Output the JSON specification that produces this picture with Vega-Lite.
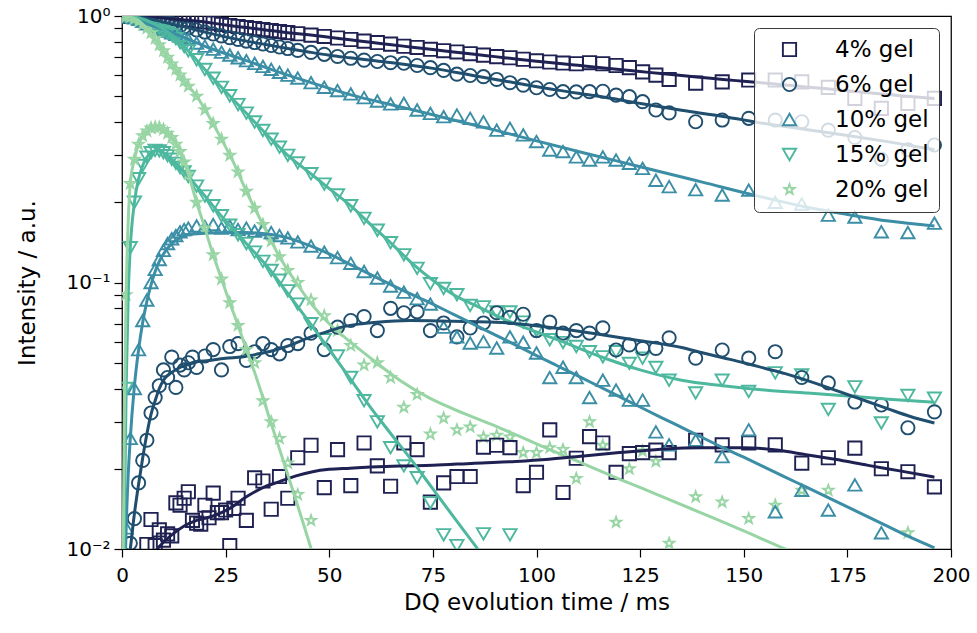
{
  "$schema": "https://vega.github.io/schema/vega-lite/v6.json",
  "width": 829,
  "height": 533,
  "autosize": {"type": "none"},
  "padding": {"left": 122, "top": 16, "right": 26, "bottom": 84},
  "background": "white",
  "config": {
    "font": "DejaVu Sans",
    "view": {"stroke": "black", "strokeWidth": 1.25},
    "axis": {
      "domain": false,
      "grid": false,
      "tickColor": "black",
      "tickWidth": 1.2,
      "tickSize": 8,
      "labelColor": "black",
      "labelFont": "DejaVu Sans",
      "labelFontSize": 20,
      "titleColor": "black",
      "titleFont": "DejaVu Sans",
      "titleFontSize": 23,
      "titleFontWeight": "normal",
      "labelFlush": false,
      "labelOverlap": false
    }
  },
  "datasets": {
    "points": [
      {"gel":"4% gel","curve":"reference","t":0,"I":1},
      {"gel":"4% gel","curve":"reference","t":1,"I":1},
      {"gel":"4% gel","curve":"reference","t":2,"I":0.999},
      {"gel":"4% gel","curve":"reference","t":3,"I":0.999},
      {"gel":"4% gel","curve":"reference","t":4,"I":0.998},
      {"gel":"4% gel","curve":"reference","t":5,"I":0.997},
      {"gel":"4% gel","curve":"reference","t":6,"I":0.994},
      {"gel":"4% gel","curve":"reference","t":7,"I":0.991},
      {"gel":"4% gel","curve":"reference","t":8,"I":0.988},
      {"gel":"4% gel","curve":"reference","t":9,"I":0.985},
      {"gel":"4% gel","curve":"reference","t":10,"I":0.982},
      {"gel":"4% gel","curve":"reference","t":11,"I":0.979},
      {"gel":"4% gel","curve":"reference","t":12,"I":0.976},
      {"gel":"4% gel","curve":"reference","t":13,"I":0.973},
      {"gel":"4% gel","curve":"reference","t":14,"I":0.97},
      {"gel":"4% gel","curve":"reference","t":15,"I":0.967},
      {"gel":"4% gel","curve":"reference","t":16,"I":0.963},
      {"gel":"4% gel","curve":"reference","t":18,"I":0.957},
      {"gel":"4% gel","curve":"reference","t":20,"I":0.95},
      {"gel":"4% gel","curve":"reference","t":22,"I":0.94},
      {"gel":"4% gel","curve":"reference","t":24,"I":0.93},
      {"gel":"4% gel","curve":"reference","t":26,"I":0.921},
      {"gel":"4% gel","curve":"reference","t":28,"I":0.913},
      {"gel":"4% gel","curve":"reference","t":30,"I":0.905},
      {"gel":"4% gel","curve":"reference","t":32,"I":0.897},
      {"gel":"4% gel","curve":"reference","t":34,"I":0.889},
      {"gel":"4% gel","curve":"reference","t":36,"I":0.881},
      {"gel":"4% gel","curve":"reference","t":38,"I":0.874},
      {"gel":"4% gel","curve":"reference","t":40,"I":0.866},
      {"gel":"4% gel","curve":"reference","t":42.4,"I":0.858},
      {"gel":"4% gel","curve":"reference","t":45.6,"I":0.848},
      {"gel":"4% gel","curve":"reference","t":48.8,"I":0.838},
      {"gel":"4% gel","curve":"reference","t":52,"I":0.827},
      {"gel":"4% gel","curve":"reference","t":55.2,"I":0.816},
      {"gel":"4% gel","curve":"reference","t":58.4,"I":0.805},
      {"gel":"4% gel","curve":"reference","t":61.6,"I":0.795},
      {"gel":"4% gel","curve":"reference","t":64.8,"I":0.784},
      {"gel":"4% gel","curve":"reference","t":68,"I":0.77},
      {"gel":"4% gel","curve":"reference","t":71.2,"I":0.762},
      {"gel":"4% gel","curve":"reference","t":74.4,"I":0.75},
      {"gel":"4% gel","curve":"reference","t":77.6,"I":0.741},
      {"gel":"4% gel","curve":"reference","t":80.8,"I":0.733},
      {"gel":"4% gel","curve":"reference","t":84,"I":0.722},
      {"gel":"4% gel","curve":"reference","t":87.2,"I":0.713},
      {"gel":"4% gel","curve":"reference","t":90.4,"I":0.704},
      {"gel":"4% gel","curve":"reference","t":93.6,"I":0.697},
      {"gel":"4% gel","curve":"reference","t":96.8,"I":0.688},
      {"gel":"4% gel","curve":"reference","t":100,"I":0.679},
      {"gel":"4% gel","curve":"reference","t":103.2,"I":0.672},
      {"gel":"4% gel","curve":"reference","t":106.4,"I":0.666},
      {"gel":"4% gel","curve":"reference","t":109.6,"I":0.662},
      {"gel":"4% gel","curve":"reference","t":112.8,"I":0.668},
      {"gel":"4% gel","curve":"reference","t":116,"I":0.662},
      {"gel":"4% gel","curve":"reference","t":119.2,"I":0.652},
      {"gel":"4% gel","curve":"reference","t":122.4,"I":0.64},
      {"gel":"4% gel","curve":"reference","t":125.6,"I":0.617},
      {"gel":"4% gel","curve":"reference","t":128.8,"I":0.6},
      {"gel":"4% gel","curve":"reference","t":132,"I":0.578},
      {"gel":"4% gel","curve":"reference","t":138.4,"I":0.56},
      {"gel":"4% gel","curve":"reference","t":144.8,"I":0.566},
      {"gel":"4% gel","curve":"reference","t":151.2,"I":0.575},
      {"gel":"4% gel","curve":"reference","t":157.6,"I":0.575},
      {"gel":"4% gel","curve":"reference","t":164,"I":0.566},
      {"gel":"4% gel","curve":"reference","t":170.4,"I":0.54},
      {"gel":"4% gel","curve":"reference","t":176.8,"I":0.491},
      {"gel":"4% gel","curve":"reference","t":183.2,"I":0.45},
      {"gel":"4% gel","curve":"reference","t":189.6,"I":0.47},
      {"gel":"4% gel","curve":"reference","t":196,"I":0.491},

      {"gel":"6% gel","curve":"reference","t":0,"I":1},
      {"gel":"6% gel","curve":"reference","t":1,"I":0.999},
      {"gel":"6% gel","curve":"reference","t":2,"I":0.997},
      {"gel":"6% gel","curve":"reference","t":3,"I":0.994},
      {"gel":"6% gel","curve":"reference","t":4,"I":0.99},
      {"gel":"6% gel","curve":"reference","t":5,"I":0.985},
      {"gel":"6% gel","curve":"reference","t":6,"I":0.978},
      {"gel":"6% gel","curve":"reference","t":7,"I":0.971},
      {"gel":"6% gel","curve":"reference","t":8,"I":0.964},
      {"gel":"6% gel","curve":"reference","t":9,"I":0.957},
      {"gel":"6% gel","curve":"reference","t":10,"I":0.95},
      {"gel":"6% gel","curve":"reference","t":11,"I":0.942},
      {"gel":"6% gel","curve":"reference","t":12,"I":0.934},
      {"gel":"6% gel","curve":"reference","t":13,"I":0.926},
      {"gel":"6% gel","curve":"reference","t":14,"I":0.918},
      {"gel":"6% gel","curve":"reference","t":15,"I":0.91},
      {"gel":"6% gel","curve":"reference","t":16,"I":0.902},
      {"gel":"6% gel","curve":"reference","t":18,"I":0.886},
      {"gel":"6% gel","curve":"reference","t":20,"I":0.87},
      {"gel":"6% gel","curve":"reference","t":22,"I":0.856},
      {"gel":"6% gel","curve":"reference","t":24,"I":0.842},
      {"gel":"6% gel","curve":"reference","t":26,"I":0.829},
      {"gel":"6% gel","curve":"reference","t":28,"I":0.817},
      {"gel":"6% gel","curve":"reference","t":30,"I":0.805},
      {"gel":"6% gel","curve":"reference","t":32,"I":0.795},
      {"gel":"6% gel","curve":"reference","t":34,"I":0.785},
      {"gel":"6% gel","curve":"reference","t":36,"I":0.775},
      {"gel":"6% gel","curve":"reference","t":38,"I":0.765},
      {"gel":"6% gel","curve":"reference","t":40,"I":0.755},
      {"gel":"6% gel","curve":"reference","t":42.4,"I":0.743},
      {"gel":"6% gel","curve":"reference","t":45.6,"I":0.73},
      {"gel":"6% gel","curve":"reference","t":48.8,"I":0.718},
      {"gel":"6% gel","curve":"reference","t":52,"I":0.705},
      {"gel":"6% gel","curve":"reference","t":55.2,"I":0.694},
      {"gel":"6% gel","curve":"reference","t":58.4,"I":0.683},
      {"gel":"6% gel","curve":"reference","t":61.6,"I":0.675},
      {"gel":"6% gel","curve":"reference","t":64.8,"I":0.668},
      {"gel":"6% gel","curve":"reference","t":68,"I":0.665},
      {"gel":"6% gel","curve":"reference","t":71.2,"I":0.652},
      {"gel":"6% gel","curve":"reference","t":74.4,"I":0.64},
      {"gel":"6% gel","curve":"reference","t":77.6,"I":0.625},
      {"gel":"6% gel","curve":"reference","t":80.8,"I":0.605},
      {"gel":"6% gel","curve":"reference","t":84,"I":0.598},
      {"gel":"6% gel","curve":"reference","t":87.2,"I":0.592},
      {"gel":"6% gel","curve":"reference","t":90.4,"I":0.578},
      {"gel":"6% gel","curve":"reference","t":93.6,"I":0.562},
      {"gel":"6% gel","curve":"reference","t":96.8,"I":0.55},
      {"gel":"6% gel","curve":"reference","t":100,"I":0.538},
      {"gel":"6% gel","curve":"reference","t":103.2,"I":0.53},
      {"gel":"6% gel","curve":"reference","t":106.4,"I":0.52},
      {"gel":"6% gel","curve":"reference","t":109.6,"I":0.519},
      {"gel":"6% gel","curve":"reference","t":112.8,"I":0.52},
      {"gel":"6% gel","curve":"reference","t":116,"I":0.522},
      {"gel":"6% gel","curve":"reference","t":119.2,"I":0.505},
      {"gel":"6% gel","curve":"reference","t":122.4,"I":0.498},
      {"gel":"6% gel","curve":"reference","t":125.6,"I":0.477},
      {"gel":"6% gel","curve":"reference","t":128.8,"I":0.444},
      {"gel":"6% gel","curve":"reference","t":132,"I":0.433},
      {"gel":"6% gel","curve":"reference","t":138.4,"I":0.401},
      {"gel":"6% gel","curve":"reference","t":144.8,"I":0.407},
      {"gel":"6% gel","curve":"reference","t":151.2,"I":0.413},
      {"gel":"6% gel","curve":"reference","t":157.6,"I":0.407},
      {"gel":"6% gel","curve":"reference","t":164,"I":0.401},
      {"gel":"6% gel","curve":"reference","t":170.4,"I":0.373},
      {"gel":"6% gel","curve":"reference","t":176.8,"I":0.35},
      {"gel":"6% gel","curve":"reference","t":183.2,"I":0.29},
      {"gel":"6% gel","curve":"reference","t":189.6,"I":0.315},
      {"gel":"6% gel","curve":"reference","t":196,"I":0.328},

      {"gel":"10% gel","curve":"reference","t":0,"I":1},
      {"gel":"10% gel","curve":"reference","t":1,"I":0.998},
      {"gel":"10% gel","curve":"reference","t":2,"I":0.993},
      {"gel":"10% gel","curve":"reference","t":3,"I":0.985},
      {"gel":"10% gel","curve":"reference","t":4,"I":0.972},
      {"gel":"10% gel","curve":"reference","t":5,"I":0.955},
      {"gel":"10% gel","curve":"reference","t":6,"I":0.935},
      {"gel":"10% gel","curve":"reference","t":7,"I":0.922},
      {"gel":"10% gel","curve":"reference","t":8,"I":0.912},
      {"gel":"10% gel","curve":"reference","t":9,"I":0.9},
      {"gel":"10% gel","curve":"reference","t":10,"I":0.89},
      {"gel":"10% gel","curve":"reference","t":11,"I":0.877},
      {"gel":"10% gel","curve":"reference","t":12,"I":0.865},
      {"gel":"10% gel","curve":"reference","t":13,"I":0.853},
      {"gel":"10% gel","curve":"reference","t":14,"I":0.841},
      {"gel":"10% gel","curve":"reference","t":15,"I":0.83},
      {"gel":"10% gel","curve":"reference","t":16,"I":0.817},
      {"gel":"10% gel","curve":"reference","t":18,"I":0.792},
      {"gel":"10% gel","curve":"reference","t":20,"I":0.771},
      {"gel":"10% gel","curve":"reference","t":22,"I":0.751},
      {"gel":"10% gel","curve":"reference","t":24,"I":0.732},
      {"gel":"10% gel","curve":"reference","t":26,"I":0.714},
      {"gel":"10% gel","curve":"reference","t":28,"I":0.697},
      {"gel":"10% gel","curve":"reference","t":30,"I":0.68},
      {"gel":"10% gel","curve":"reference","t":32,"I":0.664},
      {"gel":"10% gel","curve":"reference","t":34,"I":0.647},
      {"gel":"10% gel","curve":"reference","t":36,"I":0.631},
      {"gel":"10% gel","curve":"reference","t":38,"I":0.615},
      {"gel":"10% gel","curve":"reference","t":40,"I":0.6},
      {"gel":"10% gel","curve":"reference","t":42.4,"I":0.585},
      {"gel":"10% gel","curve":"reference","t":45.6,"I":0.562},
      {"gel":"10% gel","curve":"reference","t":48.8,"I":0.54},
      {"gel":"10% gel","curve":"reference","t":52,"I":0.525},
      {"gel":"10% gel","curve":"reference","t":55.2,"I":0.51},
      {"gel":"10% gel","curve":"reference","t":58.4,"I":0.494},
      {"gel":"10% gel","curve":"reference","t":61.6,"I":0.48},
      {"gel":"10% gel","curve":"reference","t":64.8,"I":0.468},
      {"gel":"10% gel","curve":"reference","t":68,"I":0.47},
      {"gel":"10% gel","curve":"reference","t":71.2,"I":0.444},
      {"gel":"10% gel","curve":"reference","t":74.4,"I":0.431},
      {"gel":"10% gel","curve":"reference","t":77.6,"I":0.419},
      {"gel":"10% gel","curve":"reference","t":80.8,"I":0.425},
      {"gel":"10% gel","curve":"reference","t":84,"I":0.413},
      {"gel":"10% gel","curve":"reference","t":87.2,"I":0.401},
      {"gel":"10% gel","curve":"reference","t":90.4,"I":0.373},
      {"gel":"10% gel","curve":"reference","t":93.6,"I":0.379},
      {"gel":"10% gel","curve":"reference","t":96.8,"I":0.358},
      {"gel":"10% gel","curve":"reference","t":100,"I":0.338},
      {"gel":"10% gel","curve":"reference","t":103.2,"I":0.314},
      {"gel":"10% gel","curve":"reference","t":106.4,"I":0.31},
      {"gel":"10% gel","curve":"reference","t":109.6,"I":0.296},
      {"gel":"10% gel","curve":"reference","t":112.8,"I":0.288},
      {"gel":"10% gel","curve":"reference","t":116,"I":0.296},
      {"gel":"10% gel","curve":"reference","t":119.2,"I":0.288},
      {"gel":"10% gel","curve":"reference","t":122.4,"I":0.28},
      {"gel":"10% gel","curve":"reference","t":125.6,"I":0.268},
      {"gel":"10% gel","curve":"reference","t":128.8,"I":0.242},
      {"gel":"10% gel","curve":"reference","t":132,"I":0.229},
      {"gel":"10% gel","curve":"reference","t":138.4,"I":0.223},
      {"gel":"10% gel","curve":"reference","t":144.8,"I":0.213},
      {"gel":"10% gel","curve":"reference","t":151.2,"I":0.222},
      {"gel":"10% gel","curve":"reference","t":157.6,"I":0.2},
      {"gel":"10% gel","curve":"reference","t":164,"I":0.197},
      {"gel":"10% gel","curve":"reference","t":170.4,"I":0.179},
      {"gel":"10% gel","curve":"reference","t":176.8,"I":0.176},
      {"gel":"10% gel","curve":"reference","t":183.2,"I":0.155},
      {"gel":"10% gel","curve":"reference","t":189.6,"I":0.154},
      {"gel":"10% gel","curve":"reference","t":196,"I":0.167},

      {"gel":"15% gel","curve":"reference","t":0,"I":1},
      {"gel":"15% gel","curve":"reference","t":1,"I":0.999},
      {"gel":"15% gel","curve":"reference","t":2,"I":0.996},
      {"gel":"15% gel","curve":"reference","t":3,"I":0.99},
      {"gel":"15% gel","curve":"reference","t":4,"I":0.982},
      {"gel":"15% gel","curve":"reference","t":5,"I":0.97},
      {"gel":"15% gel","curve":"reference","t":6,"I":0.955},
      {"gel":"15% gel","curve":"reference","t":7,"I":0.935},
      {"gel":"15% gel","curve":"reference","t":8,"I":0.915},
      {"gel":"15% gel","curve":"reference","t":9,"I":0.9},
      {"gel":"15% gel","curve":"reference","t":10,"I":0.88},
      {"gel":"15% gel","curve":"reference","t":11,"I":0.865},
      {"gel":"15% gel","curve":"reference","t":12,"I":0.85},
      {"gel":"15% gel","curve":"reference","t":13,"I":0.822},
      {"gel":"15% gel","curve":"reference","t":14,"I":0.795},
      {"gel":"15% gel","curve":"reference","t":15,"I":0.768},
      {"gel":"15% gel","curve":"reference","t":16,"I":0.74},
      {"gel":"15% gel","curve":"reference","t":18,"I":0.685},
      {"gel":"15% gel","curve":"reference","t":20,"I":0.63},
      {"gel":"15% gel","curve":"reference","t":22,"I":0.584},
      {"gel":"15% gel","curve":"reference","t":24,"I":0.54},
      {"gel":"15% gel","curve":"reference","t":26,"I":0.502},
      {"gel":"15% gel","curve":"reference","t":28,"I":0.465},
      {"gel":"15% gel","curve":"reference","t":30,"I":0.432},
      {"gel":"15% gel","curve":"reference","t":32,"I":0.4},
      {"gel":"15% gel","curve":"reference","t":34,"I":0.372},
      {"gel":"15% gel","curve":"reference","t":36,"I":0.345},
      {"gel":"15% gel","curve":"reference","t":38,"I":0.322},
      {"gel":"15% gel","curve":"reference","t":40,"I":0.3},
      {"gel":"15% gel","curve":"reference","t":42.4,"I":0.281},
      {"gel":"15% gel","curve":"reference","t":45.6,"I":0.256},
      {"gel":"15% gel","curve":"reference","t":48.8,"I":0.234},
      {"gel":"15% gel","curve":"reference","t":52,"I":0.213},
      {"gel":"15% gel","curve":"reference","t":55.2,"I":0.194},
      {"gel":"15% gel","curve":"reference","t":58.4,"I":0.174},
      {"gel":"15% gel","curve":"reference","t":61.6,"I":0.157},
      {"gel":"15% gel","curve":"reference","t":64.8,"I":0.141},
      {"gel":"15% gel","curve":"reference","t":68,"I":0.127},
      {"gel":"15% gel","curve":"reference","t":71.2,"I":0.113},
      {"gel":"15% gel","curve":"reference","t":74.4,"I":0.099},
      {"gel":"15% gel","curve":"reference","t":77.6,"I":0.095},
      {"gel":"15% gel","curve":"reference","t":80.8,"I":0.09},
      {"gel":"15% gel","curve":"reference","t":84,"I":0.082},
      {"gel":"15% gel","curve":"reference","t":87.2,"I":0.081},
      {"gel":"15% gel","curve":"reference","t":90.4,"I":0.0775},
      {"gel":"15% gel","curve":"reference","t":93.6,"I":0.0775},
      {"gel":"15% gel","curve":"reference","t":96.8,"I":0.071},
      {"gel":"15% gel","curve":"reference","t":100,"I":0.066},
      {"gel":"15% gel","curve":"reference","t":103.2,"I":0.061},
      {"gel":"15% gel","curve":"reference","t":106.4,"I":0.0595},
      {"gel":"15% gel","curve":"reference","t":109.6,"I":0.0575},
      {"gel":"15% gel","curve":"reference","t":112.8,"I":0.055},
      {"gel":"15% gel","curve":"reference","t":116,"I":0.0526},
      {"gel":"15% gel","curve":"reference","t":119.2,"I":0.055},
      {"gel":"15% gel","curve":"reference","t":122.4,"I":0.0497},
      {"gel":"15% gel","curve":"reference","t":125.6,"I":0.052},
      {"gel":"15% gel","curve":"reference","t":128.8,"I":0.048},
      {"gel":"15% gel","curve":"reference","t":132,"I":0.043},
      {"gel":"15% gel","curve":"reference","t":138.4,"I":0.0385},
      {"gel":"15% gel","curve":"reference","t":144.8,"I":0.043},
      {"gel":"15% gel","curve":"reference","t":151.2,"I":0.039},
      {"gel":"15% gel","curve":"reference","t":157.6,"I":0.0458},
      {"gel":"15% gel","curve":"reference","t":164,"I":0.045},
      {"gel":"15% gel","curve":"reference","t":170.4,"I":0.0334},
      {"gel":"15% gel","curve":"reference","t":176.8,"I":0.0406},
      {"gel":"15% gel","curve":"reference","t":183.2,"I":0.0297},
      {"gel":"15% gel","curve":"reference","t":189.6,"I":0.0377},
      {"gel":"15% gel","curve":"reference","t":196,"I":0.0368},

      {"gel":"20% gel","curve":"reference","t":0,"I":1},
      {"gel":"20% gel","curve":"reference","t":1,"I":0.998},
      {"gel":"20% gel","curve":"reference","t":2,"I":0.99},
      {"gel":"20% gel","curve":"reference","t":3,"I":0.975},
      {"gel":"20% gel","curve":"reference","t":4,"I":0.955},
      {"gel":"20% gel","curve":"reference","t":5,"I":0.93},
      {"gel":"20% gel","curve":"reference","t":6,"I":0.9},
      {"gel":"20% gel","curve":"reference","t":7,"I":0.865},
      {"gel":"20% gel","curve":"reference","t":8,"I":0.825},
      {"gel":"20% gel","curve":"reference","t":9,"I":0.78},
      {"gel":"20% gel","curve":"reference","t":10,"I":0.74},
      {"gel":"20% gel","curve":"reference","t":11,"I":0.7},
      {"gel":"20% gel","curve":"reference","t":12,"I":0.66},
      {"gel":"20% gel","curve":"reference","t":13,"I":0.63},
      {"gel":"20% gel","curve":"reference","t":14,"I":0.6},
      {"gel":"20% gel","curve":"reference","t":15,"I":0.57},
      {"gel":"20% gel","curve":"reference","t":16,"I":0.545},
      {"gel":"20% gel","curve":"reference","t":18,"I":0.5},
      {"gel":"20% gel","curve":"reference","t":20,"I":0.445},
      {"gel":"20% gel","curve":"reference","t":22,"I":0.395},
      {"gel":"20% gel","curve":"reference","t":24,"I":0.345},
      {"gel":"20% gel","curve":"reference","t":26,"I":0.3},
      {"gel":"20% gel","curve":"reference","t":28,"I":0.26},
      {"gel":"20% gel","curve":"reference","t":30,"I":0.22},
      {"gel":"20% gel","curve":"reference","t":32,"I":0.19},
      {"gel":"20% gel","curve":"reference","t":34,"I":0.165},
      {"gel":"20% gel","curve":"reference","t":36,"I":0.143},
      {"gel":"20% gel","curve":"reference","t":38,"I":0.125},
      {"gel":"20% gel","curve":"reference","t":40,"I":0.111},
      {"gel":"20% gel","curve":"reference","t":42.4,"I":0.1},
      {"gel":"20% gel","curve":"reference","t":45.6,"I":0.086},
      {"gel":"20% gel","curve":"reference","t":48.8,"I":0.075},
      {"gel":"20% gel","curve":"reference","t":52,"I":0.066},
      {"gel":"20% gel","curve":"reference","t":55.2,"I":0.058},
      {"gel":"20% gel","curve":"reference","t":58.4,"I":0.049},
      {"gel":"20% gel","curve":"reference","t":61.6,"I":0.05},
      {"gel":"20% gel","curve":"reference","t":64.8,"I":0.044},
      {"gel":"20% gel","curve":"reference","t":68,"I":0.034},
      {"gel":"20% gel","curve":"reference","t":71.2,"I":0.038},
      {"gel":"20% gel","curve":"reference","t":74.4,"I":0.027},
      {"gel":"20% gel","curve":"reference","t":77.6,"I":0.031},
      {"gel":"20% gel","curve":"reference","t":80.8,"I":0.028},
      {"gel":"20% gel","curve":"reference","t":84,"I":0.0287},
      {"gel":"20% gel","curve":"reference","t":87.2,"I":0.0263},
      {"gel":"20% gel","curve":"reference","t":90.4,"I":0.0267},
      {"gel":"20% gel","curve":"reference","t":93.6,"I":0.0263},
      {"gel":"20% gel","curve":"reference","t":96.8,"I":0.023},
      {"gel":"20% gel","curve":"reference","t":100,"I":0.023},
      {"gel":"20% gel","curve":"reference","t":103.2,"I":0.024},
      {"gel":"20% gel","curve":"reference","t":106.4,"I":0.0236},
      {"gel":"20% gel","curve":"reference","t":109.6,"I":0.0184},
      {"gel":"20% gel","curve":"reference","t":112.8,"I":0.03},
      {"gel":"20% gel","curve":"reference","t":116,"I":0.0245},
      {"gel":"20% gel","curve":"reference","t":119.2,"I":0.0126},
      {"gel":"20% gel","curve":"reference","t":122.4,"I":0.02},
      {"gel":"20% gel","curve":"reference","t":125.6,"I":0.0233},
      {"gel":"20% gel","curve":"reference","t":128.8,"I":0.0213},
      {"gel":"20% gel","curve":"reference","t":132,"I":0.0105},
      {"gel":"20% gel","curve":"reference","t":138.4,"I":0.0157},
      {"gel":"20% gel","curve":"reference","t":144.8,"I":0.015},
      {"gel":"20% gel","curve":"reference","t":151.2,"I":0.013},
      {"gel":"20% gel","curve":"reference","t":157.6,"I":0.0146},
      {"gel":"20% gel","curve":"reference","t":164,"I":0.0166},
      {"gel":"20% gel","curve":"reference","t":170.4,"I":0.0166},
      {"gel":"20% gel","curve":"reference","t":189.6,"I":0.0115},

      {"gel":"4% gel","curve":"DQ","t":6,"I":0.0104},
      {"gel":"4% gel","curve":"DQ","t":7,"I":0.0129},
      {"gel":"4% gel","curve":"DQ","t":8,"I":0.0103},
      {"gel":"4% gel","curve":"DQ","t":9,"I":0.0118},
      {"gel":"4% gel","curve":"DQ","t":10,"I":0.0108},
      {"gel":"4% gel","curve":"DQ","t":11,"I":0.0114},
      {"gel":"4% gel","curve":"DQ","t":12,"I":0.0112},
      {"gel":"4% gel","curve":"DQ","t":13,"I":0.0149},
      {"gel":"4% gel","curve":"DQ","t":14,"I":0.0146},
      {"gel":"4% gel","curve":"DQ","t":15,"I":0.0155},
      {"gel":"4% gel","curve":"DQ","t":16,"I":0.0164},
      {"gel":"4% gel","curve":"DQ","t":17,"I":0.0128},
      {"gel":"4% gel","curve":"DQ","t":18,"I":0.0125},
      {"gel":"4% gel","curve":"DQ","t":19,"I":0.0124},
      {"gel":"4% gel","curve":"DQ","t":20,"I":0.0146},
      {"gel":"4% gel","curve":"DQ","t":21,"I":0.0131},
      {"gel":"4% gel","curve":"DQ","t":22,"I":0.0162},
      {"gel":"4% gel","curve":"DQ","t":23,"I":0.0137},
      {"gel":"4% gel","curve":"DQ","t":24,"I":0.0137},
      {"gel":"4% gel","curve":"DQ","t":25,"I":0.014},
      {"gel":"4% gel","curve":"DQ","t":26,"I":0.0103},
      {"gel":"4% gel","curve":"DQ","t":27,"I":0.0142},
      {"gel":"4% gel","curve":"DQ","t":28,"I":0.0155},
      {"gel":"4% gel","curve":"DQ","t":30,"I":0.0128},
      {"gel":"4% gel","curve":"DQ","t":32,"I":0.0185},
      {"gel":"4% gel","curve":"DQ","t":34,"I":0.018},
      {"gel":"4% gel","curve":"DQ","t":36,"I":0.0141},
      {"gel":"4% gel","curve":"DQ","t":38,"I":0.0187},
      {"gel":"4% gel","curve":"DQ","t":40,"I":0.0155},
      {"gel":"4% gel","curve":"DQ","t":42.4,"I":0.022},
      {"gel":"4% gel","curve":"DQ","t":45.6,"I":0.0245},
      {"gel":"4% gel","curve":"DQ","t":48.8,"I":0.017},
      {"gel":"4% gel","curve":"DQ","t":52,"I":0.0236},
      {"gel":"4% gel","curve":"DQ","t":55.2,"I":0.0173},
      {"gel":"4% gel","curve":"DQ","t":58.4,"I":0.025},
      {"gel":"4% gel","curve":"DQ","t":61.6,"I":0.0205},
      {"gel":"4% gel","curve":"DQ","t":64.8,"I":0.0172},
      {"gel":"4% gel","curve":"DQ","t":68,"I":0.025},
      {"gel":"4% gel","curve":"DQ","t":71.2,"I":0.0236},
      {"gel":"4% gel","curve":"DQ","t":74.4,"I":0.015},
      {"gel":"4% gel","curve":"DQ","t":77.6,"I":0.0177},
      {"gel":"4% gel","curve":"DQ","t":80.8,"I":0.0187},
      {"gel":"4% gel","curve":"DQ","t":84,"I":0.0187},
      {"gel":"4% gel","curve":"DQ","t":87.2,"I":0.0241},
      {"gel":"4% gel","curve":"DQ","t":90.4,"I":0.0245},
      {"gel":"4% gel","curve":"DQ","t":93.6,"I":0.024},
      {"gel":"4% gel","curve":"DQ","t":96.8,"I":0.0173},
      {"gel":"4% gel","curve":"DQ","t":100,"I":0.0194},
      {"gel":"4% gel","curve":"DQ","t":103.2,"I":0.028},
      {"gel":"4% gel","curve":"DQ","t":106.4,"I":0.0163},
      {"gel":"4% gel","curve":"DQ","t":109.6,"I":0.0219},
      {"gel":"4% gel","curve":"DQ","t":112.8,"I":0.0264},
      {"gel":"4% gel","curve":"DQ","t":116,"I":0.025},
      {"gel":"4% gel","curve":"DQ","t":119.2,"I":0.0194},
      {"gel":"4% gel","curve":"DQ","t":122.4,"I":0.0228},
      {"gel":"4% gel","curve":"DQ","t":125.6,"I":0.023},
      {"gel":"4% gel","curve":"DQ","t":128.8,"I":0.0235},
      {"gel":"4% gel","curve":"DQ","t":132,"I":0.023},
      {"gel":"4% gel","curve":"DQ","t":138.4,"I":0.0256},
      {"gel":"4% gel","curve":"DQ","t":144.8,"I":0.0246},
      {"gel":"4% gel","curve":"DQ","t":151.2,"I":0.025},
      {"gel":"4% gel","curve":"DQ","t":157.6,"I":0.0246},
      {"gel":"4% gel","curve":"DQ","t":164,"I":0.021},
      {"gel":"4% gel","curve":"DQ","t":170.4,"I":0.022},
      {"gel":"4% gel","curve":"DQ","t":176.8,"I":0.0239},
      {"gel":"4% gel","curve":"DQ","t":183.2,"I":0.02},
      {"gel":"4% gel","curve":"DQ","t":189.6,"I":0.0195},
      {"gel":"4% gel","curve":"DQ","t":196,"I":0.0171},

      {"gel":"6% gel","curve":"DQ","t":2,"I":0.0105},
      {"gel":"6% gel","curve":"DQ","t":3,"I":0.013},
      {"gel":"6% gel","curve":"DQ","t":4,"I":0.0177},
      {"gel":"6% gel","curve":"DQ","t":5,"I":0.0215},
      {"gel":"6% gel","curve":"DQ","t":6,"I":0.0256},
      {"gel":"6% gel","curve":"DQ","t":7,"I":0.0324},
      {"gel":"6% gel","curve":"DQ","t":8,"I":0.037},
      {"gel":"6% gel","curve":"DQ","t":9,"I":0.041},
      {"gel":"6% gel","curve":"DQ","t":10,"I":0.047},
      {"gel":"6% gel","curve":"DQ","t":11,"I":0.044},
      {"gel":"6% gel","curve":"DQ","t":12,"I":0.0525},
      {"gel":"6% gel","curve":"DQ","t":13,"I":0.0404},
      {"gel":"6% gel","curve":"DQ","t":14,"I":0.049},
      {"gel":"6% gel","curve":"DQ","t":15,"I":0.047},
      {"gel":"6% gel","curve":"DQ","t":16,"I":0.05},
      {"gel":"6% gel","curve":"DQ","t":17,"I":0.0525},
      {"gel":"6% gel","curve":"DQ","t":18,"I":0.048},
      {"gel":"6% gel","curve":"DQ","t":20,"I":0.053},
      {"gel":"6% gel","curve":"DQ","t":22,"I":0.056},
      {"gel":"6% gel","curve":"DQ","t":24,"I":0.047},
      {"gel":"6% gel","curve":"DQ","t":26,"I":0.0575},
      {"gel":"6% gel","curve":"DQ","t":28,"I":0.059},
      {"gel":"6% gel","curve":"DQ","t":30,"I":0.051},
      {"gel":"6% gel","curve":"DQ","t":32,"I":0.055},
      {"gel":"6% gel","curve":"DQ","t":34,"I":0.059},
      {"gel":"6% gel","curve":"DQ","t":36,"I":0.056},
      {"gel":"6% gel","curve":"DQ","t":38,"I":0.054},
      {"gel":"6% gel","curve":"DQ","t":40,"I":0.058},
      {"gel":"6% gel","curve":"DQ","t":42.4,"I":0.059},
      {"gel":"6% gel","curve":"DQ","t":45.6,"I":0.0645},
      {"gel":"6% gel","curve":"DQ","t":48.8,"I":0.056},
      {"gel":"6% gel","curve":"DQ","t":52,"I":0.068},
      {"gel":"6% gel","curve":"DQ","t":55.2,"I":0.072},
      {"gel":"6% gel","curve":"DQ","t":58.4,"I":0.0745},
      {"gel":"6% gel","curve":"DQ","t":61.6,"I":0.066},
      {"gel":"6% gel","curve":"DQ","t":64.8,"I":0.08},
      {"gel":"6% gel","curve":"DQ","t":68,"I":0.077},
      {"gel":"6% gel","curve":"DQ","t":71.2,"I":0.0776},
      {"gel":"6% gel","curve":"DQ","t":74.4,"I":0.066},
      {"gel":"6% gel","curve":"DQ","t":77.6,"I":0.0705},
      {"gel":"6% gel","curve":"DQ","t":80.8,"I":0.0625},
      {"gel":"6% gel","curve":"DQ","t":84,"I":0.0675},
      {"gel":"6% gel","curve":"DQ","t":87.2,"I":0.0705},
      {"gel":"6% gel","curve":"DQ","t":90.4,"I":0.077},
      {"gel":"6% gel","curve":"DQ","t":93.6,"I":0.074},
      {"gel":"6% gel","curve":"DQ","t":96.8,"I":0.076},
      {"gel":"6% gel","curve":"DQ","t":100,"I":0.066},
      {"gel":"6% gel","curve":"DQ","t":103.2,"I":0.071},
      {"gel":"6% gel","curve":"DQ","t":106.4,"I":0.0646},
      {"gel":"6% gel","curve":"DQ","t":109.6,"I":0.066},
      {"gel":"6% gel","curve":"DQ","t":112.8,"I":0.0646},
      {"gel":"6% gel","curve":"DQ","t":116,"I":0.0676},
      {"gel":"6% gel","curve":"DQ","t":119.2,"I":0.0558},
      {"gel":"6% gel","curve":"DQ","t":122.4,"I":0.0583},
      {"gel":"6% gel","curve":"DQ","t":125.6,"I":0.0566},
      {"gel":"6% gel","curve":"DQ","t":128.8,"I":0.0566},
      {"gel":"6% gel","curve":"DQ","t":132,"I":0.062},
      {"gel":"6% gel","curve":"DQ","t":138.4,"I":0.052},
      {"gel":"6% gel","curve":"DQ","t":144.8,"I":0.0558},
      {"gel":"6% gel","curve":"DQ","t":151.2,"I":0.052},
      {"gel":"6% gel","curve":"DQ","t":157.6,"I":0.055},
      {"gel":"6% gel","curve":"DQ","t":164,"I":0.044},
      {"gel":"6% gel","curve":"DQ","t":170.4,"I":0.042},
      {"gel":"6% gel","curve":"DQ","t":176.8,"I":0.0356},
      {"gel":"6% gel","curve":"DQ","t":183.2,"I":0.0347},
      {"gel":"6% gel","curve":"DQ","t":189.6,"I":0.0285},
      {"gel":"6% gel","curve":"DQ","t":196,"I":0.0327},

      {"gel":"10% gel","curve":"DQ","t":1,"I":0.012},
      {"gel":"10% gel","curve":"DQ","t":2,"I":0.026},
      {"gel":"10% gel","curve":"DQ","t":3,"I":0.04},
      {"gel":"10% gel","curve":"DQ","t":4,"I":0.056},
      {"gel":"10% gel","curve":"DQ","t":5,"I":0.072},
      {"gel":"10% gel","curve":"DQ","t":6,"I":0.086},
      {"gel":"10% gel","curve":"DQ","t":7,"I":0.1},
      {"gel":"10% gel","curve":"DQ","t":8,"I":0.112},
      {"gel":"10% gel","curve":"DQ","t":9,"I":0.122},
      {"gel":"10% gel","curve":"DQ","t":10,"I":0.132},
      {"gel":"10% gel","curve":"DQ","t":11,"I":0.14},
      {"gel":"10% gel","curve":"DQ","t":12,"I":0.146},
      {"gel":"10% gel","curve":"DQ","t":13,"I":0.15},
      {"gel":"10% gel","curve":"DQ","t":14,"I":0.155},
      {"gel":"10% gel","curve":"DQ","t":15,"I":0.158},
      {"gel":"10% gel","curve":"DQ","t":16,"I":0.16},
      {"gel":"10% gel","curve":"DQ","t":18,"I":0.163},
      {"gel":"10% gel","curve":"DQ","t":20,"I":0.162},
      {"gel":"10% gel","curve":"DQ","t":22,"I":0.165},
      {"gel":"10% gel","curve":"DQ","t":24,"I":0.16},
      {"gel":"10% gel","curve":"DQ","t":26,"I":0.163},
      {"gel":"10% gel","curve":"DQ","t":28,"I":0.158},
      {"gel":"10% gel","curve":"DQ","t":30,"I":0.16},
      {"gel":"10% gel","curve":"DQ","t":32,"I":0.156},
      {"gel":"10% gel","curve":"DQ","t":34,"I":0.158},
      {"gel":"10% gel","curve":"DQ","t":36,"I":0.154},
      {"gel":"10% gel","curve":"DQ","t":38,"I":0.15},
      {"gel":"10% gel","curve":"DQ","t":40,"I":0.147},
      {"gel":"10% gel","curve":"DQ","t":42.4,"I":0.142},
      {"gel":"10% gel","curve":"DQ","t":45.6,"I":0.137},
      {"gel":"10% gel","curve":"DQ","t":48.8,"I":0.13},
      {"gel":"10% gel","curve":"DQ","t":52,"I":0.124},
      {"gel":"10% gel","curve":"DQ","t":55.2,"I":0.118},
      {"gel":"10% gel","curve":"DQ","t":58.4,"I":0.11},
      {"gel":"10% gel","curve":"DQ","t":61.6,"I":0.104},
      {"gel":"10% gel","curve":"DQ","t":64.8,"I":0.097},
      {"gel":"10% gel","curve":"DQ","t":68,"I":0.092},
      {"gel":"10% gel","curve":"DQ","t":71.2,"I":0.087},
      {"gel":"10% gel","curve":"DQ","t":74.4,"I":0.083},
      {"gel":"10% gel","curve":"DQ","t":77.6,"I":0.068},
      {"gel":"10% gel","curve":"DQ","t":80.8,"I":0.0625},
      {"gel":"10% gel","curve":"DQ","t":84,"I":0.0593},
      {"gel":"10% gel","curve":"DQ","t":87.2,"I":0.06},
      {"gel":"10% gel","curve":"DQ","t":90.4,"I":0.0568},
      {"gel":"10% gel","curve":"DQ","t":93.6,"I":0.0625},
      {"gel":"10% gel","curve":"DQ","t":96.8,"I":0.0597},
      {"gel":"10% gel","curve":"DQ","t":100,"I":0.0544},
      {"gel":"10% gel","curve":"DQ","t":103.2,"I":0.044},
      {"gel":"10% gel","curve":"DQ","t":106.4,"I":0.0481},
      {"gel":"10% gel","curve":"DQ","t":109.6,"I":0.044},
      {"gel":"10% gel","curve":"DQ","t":112.8,"I":0.037},
      {"gel":"10% gel","curve":"DQ","t":116,"I":0.043},
      {"gel":"10% gel","curve":"DQ","t":119.2,"I":0.0395},
      {"gel":"10% gel","curve":"DQ","t":122.4,"I":0.0362},
      {"gel":"10% gel","curve":"DQ","t":125.6,"I":0.0362},
      {"gel":"10% gel","curve":"DQ","t":128.8,"I":0.0275},
      {"gel":"10% gel","curve":"DQ","t":132,"I":0.0246},
      {"gel":"10% gel","curve":"DQ","t":138.4,"I":0.0256},
      {"gel":"10% gel","curve":"DQ","t":144.8,"I":0.0222},
      {"gel":"10% gel","curve":"DQ","t":151.2,"I":0.028},
      {"gel":"10% gel","curve":"DQ","t":157.6,"I":0.0138},
      {"gel":"10% gel","curve":"DQ","t":164,"I":0.0166},
      {"gel":"10% gel","curve":"DQ","t":170.4,"I":0.014},
      {"gel":"10% gel","curve":"DQ","t":176.8,"I":0.0174},
      {"gel":"10% gel","curve":"DQ","t":183.2,"I":0.0115},

      {"gel":"15% gel","curve":"DQ","t":1,"I":0.04},
      {"gel":"15% gel","curve":"DQ","t":2,"I":0.135},
      {"gel":"15% gel","curve":"DQ","t":3,"I":0.2},
      {"gel":"15% gel","curve":"DQ","t":4,"I":0.245},
      {"gel":"15% gel","curve":"DQ","t":5,"I":0.275},
      {"gel":"15% gel","curve":"DQ","t":6,"I":0.295},
      {"gel":"15% gel","curve":"DQ","t":7,"I":0.307},
      {"gel":"15% gel","curve":"DQ","t":8,"I":0.313},
      {"gel":"15% gel","curve":"DQ","t":9,"I":0.312},
      {"gel":"15% gel","curve":"DQ","t":10,"I":0.307},
      {"gel":"15% gel","curve":"DQ","t":11,"I":0.299},
      {"gel":"15% gel","curve":"DQ","t":12,"I":0.29},
      {"gel":"15% gel","curve":"DQ","t":13,"I":0.28},
      {"gel":"15% gel","curve":"DQ","t":14,"I":0.27},
      {"gel":"15% gel","curve":"DQ","t":15,"I":0.26},
      {"gel":"15% gel","curve":"DQ","t":16,"I":0.25},
      {"gel":"15% gel","curve":"DQ","t":18,"I":0.23},
      {"gel":"15% gel","curve":"DQ","t":20,"I":0.211},
      {"gel":"15% gel","curve":"DQ","t":22,"I":0.194},
      {"gel":"15% gel","curve":"DQ","t":24,"I":0.178},
      {"gel":"15% gel","curve":"DQ","t":26,"I":0.164},
      {"gel":"15% gel","curve":"DQ","t":28,"I":0.151},
      {"gel":"15% gel","curve":"DQ","t":30,"I":0.14},
      {"gel":"15% gel","curve":"DQ","t":32,"I":0.13},
      {"gel":"15% gel","curve":"DQ","t":34,"I":0.12},
      {"gel":"15% gel","curve":"DQ","t":36,"I":0.111},
      {"gel":"15% gel","curve":"DQ","t":38,"I":0.102},
      {"gel":"15% gel","curve":"DQ","t":40,"I":0.093},
      {"gel":"15% gel","curve":"DQ","t":42.4,"I":0.083},
      {"gel":"15% gel","curve":"DQ","t":45.6,"I":0.07},
      {"gel":"15% gel","curve":"DQ","t":48.8,"I":0.061},
      {"gel":"15% gel","curve":"DQ","t":52,"I":0.053},
      {"gel":"15% gel","curve":"DQ","t":55.2,"I":0.044},
      {"gel":"15% gel","curve":"DQ","t":58.4,"I":0.036},
      {"gel":"15% gel","curve":"DQ","t":61.6,"I":0.03},
      {"gel":"15% gel","curve":"DQ","t":64.8,"I":0.024},
      {"gel":"15% gel","curve":"DQ","t":68,"I":0.0205},
      {"gel":"15% gel","curve":"DQ","t":71.2,"I":0.0185},
      {"gel":"15% gel","curve":"DQ","t":74.4,"I":0.0149},
      {"gel":"15% gel","curve":"DQ","t":77.6,"I":0.0113},
      {"gel":"15% gel","curve":"DQ","t":80.8,"I":0.0103},
      {"gel":"15% gel","curve":"DQ","t":87.2,"I":0.0114},
      {"gel":"15% gel","curve":"DQ","t":93.6,"I":0.0113},

      {"gel":"20% gel","curve":"DQ","t":1,"I":0.09},
      {"gel":"20% gel","curve":"DQ","t":2,"I":0.235},
      {"gel":"20% gel","curve":"DQ","t":3,"I":0.29},
      {"gel":"20% gel","curve":"DQ","t":4,"I":0.33},
      {"gel":"20% gel","curve":"DQ","t":5,"I":0.355},
      {"gel":"20% gel","curve":"DQ","t":6,"I":0.37},
      {"gel":"20% gel","curve":"DQ","t":7,"I":0.38},
      {"gel":"20% gel","curve":"DQ","t":8,"I":0.383},
      {"gel":"20% gel","curve":"DQ","t":9,"I":0.382},
      {"gel":"20% gel","curve":"DQ","t":10,"I":0.375},
      {"gel":"20% gel","curve":"DQ","t":11,"I":0.363},
      {"gel":"20% gel","curve":"DQ","t":12,"I":0.35},
      {"gel":"20% gel","curve":"DQ","t":13,"I":0.33},
      {"gel":"20% gel","curve":"DQ","t":14,"I":0.31},
      {"gel":"20% gel","curve":"DQ","t":15,"I":0.283},
      {"gel":"20% gel","curve":"DQ","t":16,"I":0.255},
      {"gel":"20% gel","curve":"DQ","t":18,"I":0.2},
      {"gel":"20% gel","curve":"DQ","t":20,"I":0.16},
      {"gel":"20% gel","curve":"DQ","t":22,"I":0.127},
      {"gel":"20% gel","curve":"DQ","t":24,"I":0.103},
      {"gel":"20% gel","curve":"DQ","t":26,"I":0.084},
      {"gel":"20% gel","curve":"DQ","t":28,"I":0.069},
      {"gel":"20% gel","curve":"DQ","t":30,"I":0.056},
      {"gel":"20% gel","curve":"DQ","t":32,"I":0.05},
      {"gel":"20% gel","curve":"DQ","t":34,"I":0.036},
      {"gel":"20% gel","curve":"DQ","t":36,"I":0.03},
      {"gel":"20% gel","curve":"DQ","t":38,"I":0.026},
      {"gel":"20% gel","curve":"DQ","t":40,"I":0.021},
      {"gel":"20% gel","curve":"DQ","t":42.4,"I":0.016},
      {"gel":"20% gel","curve":"DQ","t":45.6,"I":0.0128}
    ],
    "fits": [
      {"gel":"4% gel","curve":"reference","t":0,"I":1},
      {"gel":"4% gel","curve":"reference","t":5,"I":0.997},
      {"gel":"4% gel","curve":"reference","t":10,"I":0.982},
      {"gel":"4% gel","curve":"reference","t":15,"I":0.967},
      {"gel":"4% gel","curve":"reference","t":20,"I":0.95},
      {"gel":"4% gel","curve":"reference","t":25,"I":0.925},
      {"gel":"4% gel","curve":"reference","t":30,"I":0.905},
      {"gel":"4% gel","curve":"reference","t":35,"I":0.885},
      {"gel":"4% gel","curve":"reference","t":40,"I":0.866},
      {"gel":"4% gel","curve":"reference","t":45,"I":0.85},
      {"gel":"4% gel","curve":"reference","t":50,"I":0.832},
      {"gel":"4% gel","curve":"reference","t":55,"I":0.814},
      {"gel":"4% gel","curve":"reference","t":60,"I":0.797},
      {"gel":"4% gel","curve":"reference","t":65,"I":0.78},
      {"gel":"4% gel","curve":"reference","t":70,"I":0.764},
      {"gel":"4% gel","curve":"reference","t":75,"I":0.748},
      {"gel":"4% gel","curve":"reference","t":80,"I":0.733},
      {"gel":"4% gel","curve":"reference","t":85,"I":0.718},
      {"gel":"4% gel","curve":"reference","t":90,"I":0.704},
      {"gel":"4% gel","curve":"reference","t":95,"I":0.69},
      {"gel":"4% gel","curve":"reference","t":100,"I":0.677},
      {"gel":"4% gel","curve":"reference","t":105,"I":0.665},
      {"gel":"4% gel","curve":"reference","t":110,"I":0.653},
      {"gel":"4% gel","curve":"reference","t":115,"I":0.641},
      {"gel":"4% gel","curve":"reference","t":120,"I":0.63},
      {"gel":"4% gel","curve":"reference","t":125,"I":0.619},
      {"gel":"4% gel","curve":"reference","t":130,"I":0.608},
      {"gel":"4% gel","curve":"reference","t":135,"I":0.598},
      {"gel":"4% gel","curve":"reference","t":140,"I":0.588},
      {"gel":"4% gel","curve":"reference","t":145,"I":0.578},
      {"gel":"4% gel","curve":"reference","t":150,"I":0.569},
      {"gel":"4% gel","curve":"reference","t":155,"I":0.56},
      {"gel":"4% gel","curve":"reference","t":160,"I":0.551},
      {"gel":"4% gel","curve":"reference","t":165,"I":0.542},
      {"gel":"4% gel","curve":"reference","t":170,"I":0.533},
      {"gel":"4% gel","curve":"reference","t":175,"I":0.524},
      {"gel":"4% gel","curve":"reference","t":180,"I":0.515},
      {"gel":"4% gel","curve":"reference","t":185,"I":0.507},
      {"gel":"4% gel","curve":"reference","t":190,"I":0.499},
      {"gel":"4% gel","curve":"reference","t":196,"I":0.49},

      {"gel":"6% gel","curve":"reference","t":0,"I":1},
      {"gel":"6% gel","curve":"reference","t":5,"I":0.985},
      {"gel":"6% gel","curve":"reference","t":10,"I":0.95},
      {"gel":"6% gel","curve":"reference","t":15,"I":0.91},
      {"gel":"6% gel","curve":"reference","t":20,"I":0.87},
      {"gel":"6% gel","curve":"reference","t":25,"I":0.835},
      {"gel":"6% gel","curve":"reference","t":30,"I":0.805},
      {"gel":"6% gel","curve":"reference","t":35,"I":0.78},
      {"gel":"6% gel","curve":"reference","t":40,"I":0.755},
      {"gel":"6% gel","curve":"reference","t":45,"I":0.733},
      {"gel":"6% gel","curve":"reference","t":50,"I":0.713},
      {"gel":"6% gel","curve":"reference","t":55,"I":0.697},
      {"gel":"6% gel","curve":"reference","t":60,"I":0.682},
      {"gel":"6% gel","curve":"reference","t":67,"I":0.662},
      {"gel":"6% gel","curve":"reference","t":75,"I":0.636},
      {"gel":"6% gel","curve":"reference","t":85,"I":0.597},
      {"gel":"6% gel","curve":"reference","t":95,"I":0.561},
      {"gel":"6% gel","curve":"reference","t":105,"I":0.527},
      {"gel":"6% gel","curve":"reference","t":115,"I":0.5},
      {"gel":"6% gel","curve":"reference","t":125,"I":0.47},
      {"gel":"6% gel","curve":"reference","t":135,"I":0.443},
      {"gel":"6% gel","curve":"reference","t":145,"I":0.42},
      {"gel":"6% gel","curve":"reference","t":155,"I":0.395},
      {"gel":"6% gel","curve":"reference","t":165,"I":0.375},
      {"gel":"6% gel","curve":"reference","t":175,"I":0.356},
      {"gel":"6% gel","curve":"reference","t":185,"I":0.337},
      {"gel":"6% gel","curve":"reference","t":196,"I":0.315},

      {"gel":"10% gel","curve":"reference","t":0,"I":1},
      {"gel":"10% gel","curve":"reference","t":3,"I":0.985},
      {"gel":"10% gel","curve":"reference","t":6,"I":0.935},
      {"gel":"10% gel","curve":"reference","t":10,"I":0.89},
      {"gel":"10% gel","curve":"reference","t":15,"I":0.83},
      {"gel":"10% gel","curve":"reference","t":21,"I":0.76},
      {"gel":"10% gel","curve":"reference","t":30,"I":0.68},
      {"gel":"10% gel","curve":"reference","t":40,"I":0.6},
      {"gel":"10% gel","curve":"reference","t":46,"I":0.56},
      {"gel":"10% gel","curve":"reference","t":55,"I":0.507},
      {"gel":"10% gel","curve":"reference","t":67,"I":0.457},
      {"gel":"10% gel","curve":"reference","t":80,"I":0.407},
      {"gel":"10% gel","curve":"reference","t":90,"I":0.373},
      {"gel":"10% gel","curve":"reference","t":100,"I":0.34},
      {"gel":"10% gel","curve":"reference","t":112,"I":0.305},
      {"gel":"10% gel","curve":"reference","t":125,"I":0.272},
      {"gel":"10% gel","curve":"reference","t":140,"I":0.238},
      {"gel":"10% gel","curve":"reference","t":154,"I":0.21},
      {"gel":"10% gel","curve":"reference","t":165,"I":0.192},
      {"gel":"10% gel","curve":"reference","t":175,"I":0.18},
      {"gel":"10% gel","curve":"reference","t":185,"I":0.17},
      {"gel":"10% gel","curve":"reference","t":196,"I":0.163},

      {"gel":"15% gel","curve":"reference","t":0,"I":1},
      {"gel":"15% gel","curve":"reference","t":4,"I":0.985},
      {"gel":"15% gel","curve":"reference","t":8,"I":0.93},
      {"gel":"15% gel","curve":"reference","t":12,"I":0.85},
      {"gel":"15% gel","curve":"reference","t":16,"I":0.74},
      {"gel":"15% gel","curve":"reference","t":20,"I":0.63},
      {"gel":"15% gel","curve":"reference","t":24,"I":0.54},
      {"gel":"15% gel","curve":"reference","t":28,"I":0.465},
      {"gel":"15% gel","curve":"reference","t":32,"I":0.4},
      {"gel":"15% gel","curve":"reference","t":36,"I":0.345},
      {"gel":"15% gel","curve":"reference","t":40,"I":0.3},
      {"gel":"15% gel","curve":"reference","t":45,"I":0.26},
      {"gel":"15% gel","curve":"reference","t":50,"I":0.225},
      {"gel":"15% gel","curve":"reference","t":55,"I":0.195},
      {"gel":"15% gel","curve":"reference","t":60,"I":0.165},
      {"gel":"15% gel","curve":"reference","t":65,"I":0.14},
      {"gel":"15% gel","curve":"reference","t":70,"I":0.118},
      {"gel":"15% gel","curve":"reference","t":75,"I":0.102},
      {"gel":"15% gel","curve":"reference","t":80,"I":0.09},
      {"gel":"15% gel","curve":"reference","t":86,"I":0.081},
      {"gel":"15% gel","curve":"reference","t":92,"I":0.073},
      {"gel":"15% gel","curve":"reference","t":98,"I":0.067},
      {"gel":"15% gel","curve":"reference","t":105,"I":0.061},
      {"gel":"15% gel","curve":"reference","t":115,"I":0.053},
      {"gel":"15% gel","curve":"reference","t":125,"I":0.047},
      {"gel":"15% gel","curve":"reference","t":135,"I":0.043},
      {"gel":"15% gel","curve":"reference","t":145,"I":0.041},
      {"gel":"15% gel","curve":"reference","t":155,"I":0.0395},
      {"gel":"15% gel","curve":"reference","t":165,"I":0.0385},
      {"gel":"15% gel","curve":"reference","t":175,"I":0.0375},
      {"gel":"15% gel","curve":"reference","t":185,"I":0.0365},
      {"gel":"15% gel","curve":"reference","t":196,"I":0.0355},

      {"gel":"20% gel","curve":"reference","t":0,"I":1},
      {"gel":"20% gel","curve":"reference","t":3,"I":0.98},
      {"gel":"20% gel","curve":"reference","t":6,"I":0.9},
      {"gel":"20% gel","curve":"reference","t":9,"I":0.78},
      {"gel":"20% gel","curve":"reference","t":12,"I":0.66},
      {"gel":"20% gel","curve":"reference","t":15,"I":0.57},
      {"gel":"20% gel","curve":"reference","t":18,"I":0.5},
      {"gel":"20% gel","curve":"reference","t":21,"I":0.42},
      {"gel":"20% gel","curve":"reference","t":24,"I":0.345},
      {"gel":"20% gel","curve":"reference","t":27,"I":0.28},
      {"gel":"20% gel","curve":"reference","t":30,"I":0.22},
      {"gel":"20% gel","curve":"reference","t":34,"I":0.165},
      {"gel":"20% gel","curve":"reference","t":38,"I":0.125},
      {"gel":"20% gel","curve":"reference","t":42,"I":0.1},
      {"gel":"20% gel","curve":"reference","t":46,"I":0.082},
      {"gel":"20% gel","curve":"reference","t":50,"I":0.07},
      {"gel":"20% gel","curve":"reference","t":55,"I":0.06},
      {"gel":"20% gel","curve":"reference","t":60,"I":0.052},
      {"gel":"20% gel","curve":"reference","t":67,"I":0.043},
      {"gel":"20% gel","curve":"reference","t":74,"I":0.037},
      {"gel":"20% gel","curve":"reference","t":80,"I":0.0335},
      {"gel":"20% gel","curve":"reference","t":90,"I":0.029},
      {"gel":"20% gel","curve":"reference","t":100,"I":0.0248},
      {"gel":"20% gel","curve":"reference","t":110,"I":0.0213},
      {"gel":"20% gel","curve":"reference","t":120,"I":0.0183},
      {"gel":"20% gel","curve":"reference","t":130,"I":0.0158},
      {"gel":"20% gel","curve":"reference","t":140,"I":0.0136},
      {"gel":"20% gel","curve":"reference","t":150,"I":0.0117},
      {"gel":"20% gel","curve":"reference","t":160,"I":0.01},
      {"gel":"20% gel","curve":"reference","t":166,"I":0.0092},

      {"gel":"4% gel","curve":"DQ","t":6,"I":0.0088},
      {"gel":"4% gel","curve":"DQ","t":8.5,"I":0.01},
      {"gel":"4% gel","curve":"DQ","t":10,"I":0.0106},
      {"gel":"4% gel","curve":"DQ","t":12,"I":0.0113},
      {"gel":"4% gel","curve":"DQ","t":15,"I":0.0122},
      {"gel":"4% gel","curve":"DQ","t":18,"I":0.0128},
      {"gel":"4% gel","curve":"DQ","t":22,"I":0.0133},
      {"gel":"4% gel","curve":"DQ","t":26,"I":0.0142},
      {"gel":"4% gel","curve":"DQ","t":30,"I":0.0157},
      {"gel":"4% gel","curve":"DQ","t":34,"I":0.017},
      {"gel":"4% gel","curve":"DQ","t":38,"I":0.0179},
      {"gel":"4% gel","curve":"DQ","t":42,"I":0.0188},
      {"gel":"4% gel","curve":"DQ","t":46,"I":0.0195},
      {"gel":"4% gel","curve":"DQ","t":50,"I":0.0199},
      {"gel":"4% gel","curve":"DQ","t":55,"I":0.0201},
      {"gel":"4% gel","curve":"DQ","t":60,"I":0.0203},
      {"gel":"4% gel","curve":"DQ","t":67,"I":0.0205},
      {"gel":"4% gel","curve":"DQ","t":75,"I":0.0206},
      {"gel":"4% gel","curve":"DQ","t":85,"I":0.021},
      {"gel":"4% gel","curve":"DQ","t":95,"I":0.0213},
      {"gel":"4% gel","curve":"DQ","t":103,"I":0.0217},
      {"gel":"4% gel","curve":"DQ","t":112,"I":0.0224},
      {"gel":"4% gel","curve":"DQ","t":120,"I":0.023},
      {"gel":"4% gel","curve":"DQ","t":130,"I":0.0237},
      {"gel":"4% gel","curve":"DQ","t":140,"I":0.024},
      {"gel":"4% gel","curve":"DQ","t":150,"I":0.024},
      {"gel":"4% gel","curve":"DQ","t":158,"I":0.0235},
      {"gel":"4% gel","curve":"DQ","t":165,"I":0.0226},
      {"gel":"4% gel","curve":"DQ","t":172,"I":0.0217},
      {"gel":"4% gel","curve":"DQ","t":180,"I":0.0206},
      {"gel":"4% gel","curve":"DQ","t":188,"I":0.0196},
      {"gel":"4% gel","curve":"DQ","t":196,"I":0.0186},

      {"gel":"6% gel","curve":"DQ","t":1,"I":0.0078},
      {"gel":"6% gel","curve":"DQ","t":2,"I":0.01},
      {"gel":"6% gel","curve":"DQ","t":3,"I":0.0136},
      {"gel":"6% gel","curve":"DQ","t":4,"I":0.0175},
      {"gel":"6% gel","curve":"DQ","t":5,"I":0.022},
      {"gel":"6% gel","curve":"DQ","t":6,"I":0.027},
      {"gel":"6% gel","curve":"DQ","t":7,"I":0.032},
      {"gel":"6% gel","curve":"DQ","t":8,"I":0.036},
      {"gel":"6% gel","curve":"DQ","t":9,"I":0.04},
      {"gel":"6% gel","curve":"DQ","t":10,"I":0.043},
      {"gel":"6% gel","curve":"DQ","t":12,"I":0.046},
      {"gel":"6% gel","curve":"DQ","t":14,"I":0.048},
      {"gel":"6% gel","curve":"DQ","t":17,"I":0.05},
      {"gel":"6% gel","curve":"DQ","t":21,"I":0.051},
      {"gel":"6% gel","curve":"DQ","t":25,"I":0.052},
      {"gel":"6% gel","curve":"DQ","t":29,"I":0.0525},
      {"gel":"6% gel","curve":"DQ","t":33,"I":0.054},
      {"gel":"6% gel","curve":"DQ","t":37,"I":0.0558},
      {"gel":"6% gel","curve":"DQ","t":41,"I":0.0585},
      {"gel":"6% gel","curve":"DQ","t":45,"I":0.062},
      {"gel":"6% gel","curve":"DQ","t":49,"I":0.065},
      {"gel":"6% gel","curve":"DQ","t":53,"I":0.068},
      {"gel":"6% gel","curve":"DQ","t":57,"I":0.0698},
      {"gel":"6% gel","curve":"DQ","t":61.5,"I":0.071},
      {"gel":"6% gel","curve":"DQ","t":69.5,"I":0.072},
      {"gel":"6% gel","curve":"DQ","t":80,"I":0.0715},
      {"gel":"6% gel","curve":"DQ","t":90,"I":0.071},
      {"gel":"6% gel","curve":"DQ","t":103,"I":0.068},
      {"gel":"6% gel","curve":"DQ","t":115,"I":0.064},
      {"gel":"6% gel","curve":"DQ","t":125,"I":0.0605},
      {"gel":"6% gel","curve":"DQ","t":135,"I":0.057},
      {"gel":"6% gel","curve":"DQ","t":140,"I":0.0545},
      {"gel":"6% gel","curve":"DQ","t":145,"I":0.0522},
      {"gel":"6% gel","curve":"DQ","t":150,"I":0.05},
      {"gel":"6% gel","curve":"DQ","t":155,"I":0.0477},
      {"gel":"6% gel","curve":"DQ","t":160,"I":0.0455},
      {"gel":"6% gel","curve":"DQ","t":165,"I":0.043},
      {"gel":"6% gel","curve":"DQ","t":170,"I":0.0405},
      {"gel":"6% gel","curve":"DQ","t":175,"I":0.038},
      {"gel":"6% gel","curve":"DQ","t":180,"I":0.0357},
      {"gel":"6% gel","curve":"DQ","t":185,"I":0.0335},
      {"gel":"6% gel","curve":"DQ","t":190,"I":0.0315},
      {"gel":"6% gel","curve":"DQ","t":196,"I":0.0297},

      {"gel":"10% gel","curve":"DQ","t":0.5,"I":0.006},
      {"gel":"10% gel","curve":"DQ","t":1,"I":0.012},
      {"gel":"10% gel","curve":"DQ","t":1.5,"I":0.019},
      {"gel":"10% gel","curve":"DQ","t":2,"I":0.026},
      {"gel":"10% gel","curve":"DQ","t":3,"I":0.041},
      {"gel":"10% gel","curve":"DQ","t":4,"I":0.056},
      {"gel":"10% gel","curve":"DQ","t":5,"I":0.071},
      {"gel":"10% gel","curve":"DQ","t":6,"I":0.085},
      {"gel":"10% gel","curve":"DQ","t":7,"I":0.098},
      {"gel":"10% gel","curve":"DQ","t":8,"I":0.11},
      {"gel":"10% gel","curve":"DQ","t":9,"I":0.12},
      {"gel":"10% gel","curve":"DQ","t":10,"I":0.128},
      {"gel":"10% gel","curve":"DQ","t":12,"I":0.14},
      {"gel":"10% gel","curve":"DQ","t":14,"I":0.147},
      {"gel":"10% gel","curve":"DQ","t":16,"I":0.151},
      {"gel":"10% gel","curve":"DQ","t":20,"I":0.153},
      {"gel":"10% gel","curve":"DQ","t":25,"I":0.154},
      {"gel":"10% gel","curve":"DQ","t":30,"I":0.154},
      {"gel":"10% gel","curve":"DQ","t":35,"I":0.152},
      {"gel":"10% gel","curve":"DQ","t":40,"I":0.147},
      {"gel":"10% gel","curve":"DQ","t":45,"I":0.138},
      {"gel":"10% gel","curve":"DQ","t":50,"I":0.128},
      {"gel":"10% gel","curve":"DQ","t":55,"I":0.117},
      {"gel":"10% gel","curve":"DQ","t":60,"I":0.107},
      {"gel":"10% gel","curve":"DQ","t":65,"I":0.098},
      {"gel":"10% gel","curve":"DQ","t":70,"I":0.09},
      {"gel":"10% gel","curve":"DQ","t":75,"I":0.083},
      {"gel":"10% gel","curve":"DQ","t":80,"I":0.0759},
      {"gel":"10% gel","curve":"DQ","t":85,"I":0.0695},
      {"gel":"10% gel","curve":"DQ","t":90,"I":0.0636},
      {"gel":"10% gel","curve":"DQ","t":95,"I":0.0582},
      {"gel":"10% gel","curve":"DQ","t":100,"I":0.0532},
      {"gel":"10% gel","curve":"DQ","t":105,"I":0.0487},
      {"gel":"10% gel","curve":"DQ","t":110,"I":0.0446},
      {"gel":"10% gel","curve":"DQ","t":115,"I":0.0408},
      {"gel":"10% gel","curve":"DQ","t":120,"I":0.0373},
      {"gel":"10% gel","curve":"DQ","t":125,"I":0.0341},
      {"gel":"10% gel","curve":"DQ","t":130,"I":0.0312},
      {"gel":"10% gel","curve":"DQ","t":135,"I":0.0286},
      {"gel":"10% gel","curve":"DQ","t":140,"I":0.0262},
      {"gel":"10% gel","curve":"DQ","t":145,"I":0.024},
      {"gel":"10% gel","curve":"DQ","t":150,"I":0.0221},
      {"gel":"10% gel","curve":"DQ","t":155,"I":0.0203},
      {"gel":"10% gel","curve":"DQ","t":160,"I":0.0186},
      {"gel":"10% gel","curve":"DQ","t":165,"I":0.0171},
      {"gel":"10% gel","curve":"DQ","t":170,"I":0.0157},
      {"gel":"10% gel","curve":"DQ","t":175,"I":0.0144},
      {"gel":"10% gel","curve":"DQ","t":180,"I":0.0132},
      {"gel":"10% gel","curve":"DQ","t":185,"I":0.0121},
      {"gel":"10% gel","curve":"DQ","t":190,"I":0.0111},
      {"gel":"10% gel","curve":"DQ","t":196,"I":0.0101},

      {"gel":"15% gel","curve":"DQ","t":0.3,"I":0.005},
      {"gel":"15% gel","curve":"DQ","t":0.5,"I":0.01},
      {"gel":"15% gel","curve":"DQ","t":1,"I":0.04},
      {"gel":"15% gel","curve":"DQ","t":1.5,"I":0.09},
      {"gel":"15% gel","curve":"DQ","t":2,"I":0.135},
      {"gel":"15% gel","curve":"DQ","t":3,"I":0.2},
      {"gel":"15% gel","curve":"DQ","t":4,"I":0.245},
      {"gel":"15% gel","curve":"DQ","t":5,"I":0.275},
      {"gel":"15% gel","curve":"DQ","t":6,"I":0.295},
      {"gel":"15% gel","curve":"DQ","t":7,"I":0.307},
      {"gel":"15% gel","curve":"DQ","t":8.5,"I":0.313},
      {"gel":"15% gel","curve":"DQ","t":10,"I":0.307},
      {"gel":"15% gel","curve":"DQ","t":12,"I":0.29},
      {"gel":"15% gel","curve":"DQ","t":16,"I":0.25},
      {"gel":"15% gel","curve":"DQ","t":20,"I":0.211},
      {"gel":"15% gel","curve":"DQ","t":25,"I":0.17},
      {"gel":"15% gel","curve":"DQ","t":30,"I":0.14},
      {"gel":"15% gel","curve":"DQ","t":35,"I":0.115},
      {"gel":"15% gel","curve":"DQ","t":40,"I":0.091},
      {"gel":"15% gel","curve":"DQ","t":45,"I":0.0716},
      {"gel":"15% gel","curve":"DQ","t":50,"I":0.056},
      {"gel":"15% gel","curve":"DQ","t":55,"I":0.0437},
      {"gel":"15% gel","curve":"DQ","t":60,"I":0.0339},
      {"gel":"15% gel","curve":"DQ","t":65,"I":0.0269},
      {"gel":"15% gel","curve":"DQ","t":70,"I":0.0214},
      {"gel":"15% gel","curve":"DQ","t":75,"I":0.0168},
      {"gel":"15% gel","curve":"DQ","t":80,"I":0.0132},
      {"gel":"15% gel","curve":"DQ","t":85,"I":0.0104},
      {"gel":"15% gel","curve":"DQ","t":90,"I":0.0081},

      {"gel":"20% gel","curve":"DQ","t":0.2,"I":0.005},
      {"gel":"20% gel","curve":"DQ","t":0.3,"I":0.01},
      {"gel":"20% gel","curve":"DQ","t":0.6,"I":0.035},
      {"gel":"20% gel","curve":"DQ","t":1,"I":0.09},
      {"gel":"20% gel","curve":"DQ","t":1.5,"I":0.17},
      {"gel":"20% gel","curve":"DQ","t":2,"I":0.235},
      {"gel":"20% gel","curve":"DQ","t":3,"I":0.29},
      {"gel":"20% gel","curve":"DQ","t":4,"I":0.33},
      {"gel":"20% gel","curve":"DQ","t":5,"I":0.355},
      {"gel":"20% gel","curve":"DQ","t":6,"I":0.37},
      {"gel":"20% gel","curve":"DQ","t":7,"I":0.38},
      {"gel":"20% gel","curve":"DQ","t":8.5,"I":0.383},
      {"gel":"20% gel","curve":"DQ","t":10,"I":0.375},
      {"gel":"20% gel","curve":"DQ","t":12,"I":0.35},
      {"gel":"20% gel","curve":"DQ","t":14,"I":0.31},
      {"gel":"20% gel","curve":"DQ","t":16,"I":0.255},
      {"gel":"20% gel","curve":"DQ","t":18,"I":0.2},
      {"gel":"20% gel","curve":"DQ","t":20,"I":0.16},
      {"gel":"20% gel","curve":"DQ","t":22,"I":0.127},
      {"gel":"20% gel","curve":"DQ","t":24,"I":0.103},
      {"gel":"20% gel","curve":"DQ","t":26,"I":0.084},
      {"gel":"20% gel","curve":"DQ","t":28,"I":0.069},
      {"gel":"20% gel","curve":"DQ","t":30,"I":0.056},
      {"gel":"20% gel","curve":"DQ","t":32,"I":0.046},
      {"gel":"20% gel","curve":"DQ","t":34,"I":0.037},
      {"gel":"20% gel","curve":"DQ","t":36,"I":0.0295},
      {"gel":"20% gel","curve":"DQ","t":38,"I":0.0237},
      {"gel":"20% gel","curve":"DQ","t":40,"I":0.019},
      {"gel":"20% gel","curve":"DQ","t":42,"I":0.0152},
      {"gel":"20% gel","curve":"DQ","t":44,"I":0.0121},
      {"gel":"20% gel","curve":"DQ","t":46,"I":0.0096}
    ]
  },
  "encoding": {
    "x": {
      "field": "t",
      "type": "quantitative",
      "scale": {"domain": [0, 200], "nice": false, "zero": false},
      "axis": {
        "title": "DQ evolution time / ms",
        "values": [0, 25, 50, 75, 100, 125, 150, 175, 200],
        "labelPadding": 8,
        "titlePadding": 6
      }
    },
    "y": {
      "field": "I",
      "type": "quantitative",
      "scale": {"type": "log", "domain": [0.01, 1], "nice": false},
      "axis": {
        "title": "Intensity / a.u.",
        "values": [0.01, 0.02, 0.03, 0.04, 0.05, 0.06, 0.07, 0.08, 0.09, 0.1, 0.2, 0.3, 0.4, 0.5, 0.6, 0.7, 0.8, 0.9, 1],
        "labelExpr": "datum.value == 1 ? '10⁰' : datum.value == 0.1 ? '10⁻¹' : datum.value == 0.01 ? '10⁻²' : ''",
        "labelPadding": 4,
        "titlePadding": 26,
        "encode": {
          "ticks": {
            "update": {
              "x2": {"signal": "abs(log(datum.value) / LN10 - round(log(datum.value) / LN10)) < 0.001 ? -8 : -4.5"}
            }
          }
        }
      }
    },
    "color": {
      "field": "gel",
      "type": "nominal",
      "scale": {
        "domain": ["4% gel", "6% gel", "10% gel", "15% gel", "20% gel"],
        "range": ["#1f2152", "#1f4e6e", "#3b8ea5", "#4db89e", "#98d5a4"]
      }
    },
    "detail": {"field": "curve"}
  },
  "layer": [
    {
      "data": {"name": "points"},
      "mark": {"type": "point", "filled": false, "strokeWidth": 1.9, "size": 175, "opacity": 1, "clip": true},
      "encoding": {
        "color": {
          "field": "gel",
          "type": "nominal",
          "legend": {
            "title": null,
            "orient": "top-right",
            "offset": 12,
            "padding": 10,
            "fillColor": "rgba(255,255,255,0.8)",
            "strokeColor": "#3a3a3a",
            "cornerRadius": 5,
            "labelFont": "DejaVu Sans",
            "labelFontSize": 23,
            "labelColor": "black",
            "labelOffset": 34,
            "symbolOffset": 14,
            "symbolSize": 175,
            "symbolStrokeWidth": 1.9,
            "rowPadding": 11,
            "encode": {"legend": {"update": {"strokeWidth": {"value": 1.5}}}}
          }
        },
        "shape": {
          "field": "gel",
          "type": "nominal",
          "scale": {
            "domain": ["4% gel", "6% gel", "10% gel", "15% gel", "20% gel"],
            "range": ["square", "circle", "triangle-up", "triangle-down", "M0,-0.8L0.188,-0.259L0.761,-0.247L0.304,0.099L0.47,0.647L0,0.32L-0.47,0.647L-0.304,0.099L-0.761,-0.247L-0.188,-0.259Z"]
          },
          "legend": {"title": null}
        }
      }
    },
    {
      "data": {"name": "fits"},
      "mark": {"type": "line", "strokeWidth": 3, "clip": true, "interpolate": "monotone"},
      "encoding": {
        "color": {"field": "gel", "type": "nominal", "legend": null}
      }
    }
  ]
}
